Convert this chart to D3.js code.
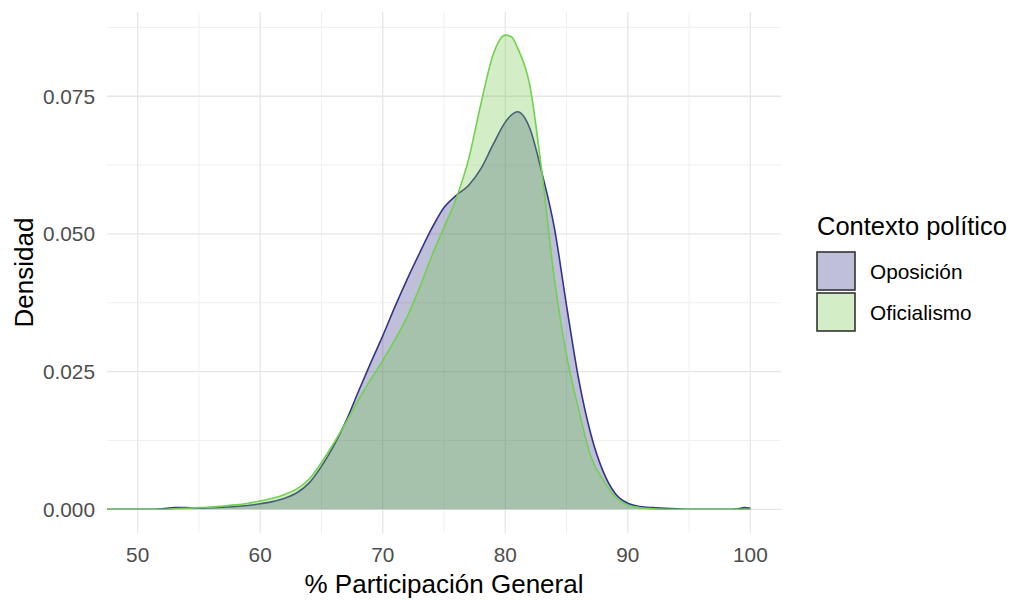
<!DOCTYPE html>
<html>
<head>
<meta charset="utf-8">
<script src="https://cdn.jsdelivr.net/npm/d3@7"></script>
<style>
  body { margin: 0; background: #fff; }
  text { font-family: "Liberation Sans", Arial, sans-serif; }
</style>
</head>
<body>
<svg width="1015" height="600"></svg>
<script>
// values
var xs = [47.5, 48, 49, 50, 51, 52, 53, 54, 55, 56, 57, 58, 59, 60, 61, 62, 63, 64, 65, 66, 67, 68, 69,
          70, 71, 72, 73, 74, 75, 76, 77, 78, 79, 80, 80.5, 81, 82, 83, 84, 85, 86, 87, 88, 89, 90,
          91, 92, 93, 94, 95, 96, 97, 98, 99, 99.5, 100];
var oposicion = [0, 0, 0, 0, 0, 0.0001, 0.0003, 0.0003, 0.0002, 0.0003, 0.0004, 0.0005, 0.0007, 0.001,
                 0.0014, 0.002, 0.003, 0.0048, 0.0078, 0.0115, 0.016, 0.0213, 0.0265,
                 0.0315, 0.0368, 0.0418, 0.0465, 0.051, 0.0548, 0.057, 0.0588, 0.0618, 0.0662, 0.0703, 0.0716,
                 0.0722, 0.0692, 0.061, 0.0512, 0.037, 0.0235, 0.0135, 0.0068, 0.0028, 0.0011,
                 0.0005, 0.0003, 0.0002, 0.0001, 0, 0, 0, 0, 0.0001, 0.0003, 0.0002];
var oficialismo = [0, 0, 0, 0, 0, 0, 0.0001, 0.0002, 0.0003, 0.0004, 0.0006, 0.0008, 0.0011, 0.0015,
                   0.002, 0.0027, 0.0037, 0.0055, 0.0085, 0.012, 0.0158, 0.0198, 0.0235,
                   0.027, 0.0308, 0.035, 0.0402, 0.046, 0.0512, 0.0565, 0.0635, 0.0735, 0.0825, 0.0861, 0.0858,
                   0.0838, 0.077, 0.061, 0.042, 0.028, 0.018, 0.0095, 0.0053, 0.0022, 0.0008,
                   0.0003, 0.0001, 0, 0, 0, 0, 0, 0, 0, 0, 0];
var groups = ["Oposición", "Oficialismo"];
var xTicks = [50, 60, 70, 80, 90, 100];
var xMinor = [55, 65, 75, 85, 95];
var yTicks = [0, 0.025, 0.05, 0.075];
var yMinor = [0.0125, 0.0375, 0.0625, 0.0875];

var fills = {"Oposición": "#2c2c80", "Oficialismo": "#6cc644"};
var strokes = {"Oposición": "#34348a", "Oficialismo": "#70d24e"};

var svg = d3.select("svg");
var panel = {left: 107, right: 781, top: 12, bottom: 533};

var x = d3.scaleLinear().domain([47.5, 102.5]).range([panel.left, panel.right]);
var y = d3.scaleLinear().domain([-0.0043, 0.0903]).range([panel.bottom, panel.top]);

// grid
var grid = svg.append("g");
grid.selectAll(".xminor").data(xMinor).enter().append("line")
    .attr("x1", function(d) { return x(d); }).attr("x2", function(d) { return x(d); })
    .attr("y1", panel.top).attr("y2", panel.bottom)
    .attr("stroke", "#f0f0f0").attr("stroke-width", 1);
grid.selectAll(".yminor").data(yMinor).enter().append("line")
    .attr("x1", panel.left).attr("x2", panel.right)
    .attr("y1", function(d) { return y(d); }).attr("y2", function(d) { return y(d); })
    .attr("stroke", "#f0f0f0").attr("stroke-width", 1);
grid.selectAll(".xmajor").data(xTicks).enter().append("line")
    .attr("x1", function(d) { return x(d); }).attr("x2", function(d) { return x(d); })
    .attr("y1", panel.top).attr("y2", panel.bottom)
    .attr("stroke", "#e6e6e6").attr("stroke-width", 1.3);
grid.selectAll(".ymajor").data(yTicks).enter().append("line")
    .attr("x1", panel.left).attr("x2", panel.right)
    .attr("y1", function(d) { return y(d); }).attr("y2", function(d) { return y(d); })
    .attr("stroke", "#e6e6e6").attr("stroke-width", 1.3);

// densities
var series = {"Oposición": oposicion, "Oficialismo": oficialismo};
var area = d3.area()
    .x(function(d) { return x(d[0]); })
    .y0(y(0))
    .y1(function(d) { return y(d[1]); })
    .curve(d3.curveMonotoneX);
var line = d3.line()
    .x(function(d) { return x(d[0]); })
    .y(function(d) { return y(d[1]); })
    .curve(d3.curveMonotoneX);

groups.forEach(function(g) {
    var pts = xs.map(function(v, i) { return [v, series[g][i]]; });
    svg.append("path").datum(pts)
        .attr("d", area)
        .attr("fill", fills[g]).attr("fill-opacity", 0.3);
    svg.append("path").datum(pts)
        .attr("d", line)
        .attr("fill", "none")
        .attr("stroke", strokes[g]).attr("stroke-width", 1.6);
});

// axes labels
svg.selectAll(".ylab").data(yTicks).enter().append("text")
    .attr("x", 95).attr("y", function(d) { return y(d) + 7.5; })
    .attr("text-anchor", "end")
    .attr("font-size", 20.8).attr("fill", "#4d4d4d")
    .text(function(d) { return d3.format(".3f")(d); });
svg.selectAll(".xlab").data(xTicks).enter().append("text")
    .attr("x", function(d) { return x(d); }).attr("y", 562)
    .attr("text-anchor", "middle")
    .attr("font-size", 20.8).attr("fill", "#4d4d4d")
    .text(function(d) { return d; });

svg.append("text")
    .attr("x", (panel.left + panel.right) / 2).attr("y", 593)
    .attr("text-anchor", "middle").attr("font-size", 26).attr("fill", "#000")
    .text("% Participación General");
svg.append("text")
    .attr("transform", "translate(33," + ((panel.top + panel.bottom) / 2) + ") rotate(-90)")
    .attr("text-anchor", "middle").attr("font-size", 26).attr("fill", "#000")
    .text("Densidad");

// legend
var legend = svg.append("g").attr("transform", "translate(817,0)");
legend.append("text")
    .attr("x", 0).attr("y", 235)
    .attr("font-size", 25.5).attr("fill", "#000")
    .text("Contexto político");
var items = legend.selectAll(".item").data(groups).enter().append("g")
    .attr("transform", function(d, i) { return "translate(0," + (252 + i * 41) + ")"; });
items.append("rect")
    .attr("width", 38).attr("height", 38)
    .attr("fill", "#fff");
items.append("rect")
    .attr("width", 38).attr("height", 38)
    .attr("fill", function(d) { return fills[d]; }).attr("fill-opacity", 0.3)
    .attr("stroke", "#333").attr("stroke-width", 1.6);
items.append("text")
    .attr("x", 53).attr("y", 19 + 7.5)
    .attr("font-size", 20.8).attr("fill", "#000")
    .text(function(d) { return d; });
</script>
</body>
</html>
